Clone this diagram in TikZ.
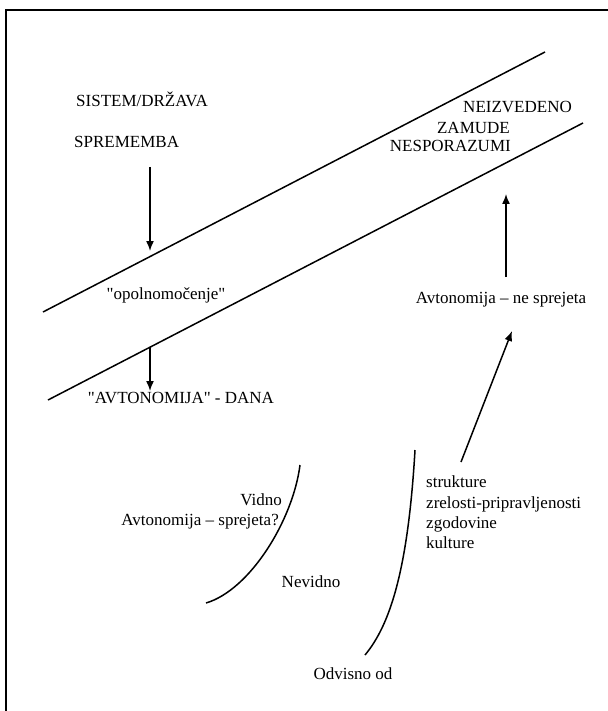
\documentclass[tikz,border=0pt]{standalone}
\usepackage{fontspec}
\setmainfont{Liberation Serif}[Ligatures=TeXOff]
\usetikzlibrary{arrows.meta}
\begin{document}
\begin{tikzpicture}[x=1pt,y=-1pt,
  lbl/.style={inner sep=0pt,font=\fontsize{17}{20.5}\selectfont},
  band/.style={line width=1.5pt},
  curveline/.style={line width=1.5pt},
  arr/.style={line width=1.5pt,-{Latex[length=10pt,width=8pt]}},
  frame/.style={line width=2.5pt}]
\useasboundingbox (0,0) rectangle (607,711);
% frame (top and left edges visible)
\coordinate (fTL) at (6,10);
\coordinate (fTR) at (610,10);
\coordinate (fBL) at (6,714);
\draw[frame] (fTR) -- (fTL) -- (fBL);
% band lines
\coordinate (u1) at (43,312);
\coordinate (u2) at (545,52);
\coordinate (l1) at (48,400);
\coordinate (l2) at (583,123);
\draw[band] (u1) -- (u2);
\draw[band] (l1) -- (l2);
% texts
\node[lbl,anchor=base west] (sis) at (76,107) {SISTEM/DRŽAVA};
\node[lbl,anchor=base west] (spr) at (74,148) {SPREMEMBA};
\node[lbl,anchor=base east] (nei) at (572,113) {NEIZVEDENO};
\node[lbl,anchor=base east] (zam) at (510,134) {ZAMUDE};
\node[lbl,anchor=base east] (nes) at (511,152) {NESPORAZUMI};
\node[lbl,anchor=base] (opo) at (166,299) {"opolnomočenje"};
\node[lbl,anchor=base] (avd) at (181,403) {"AVTONOMIJA" - DANA};
\node[lbl,anchor=base] (ans) at (501,303) {Avtonomija – ne sprejeta};
\node[lbl,anchor=base east] (vid) at (282,505) {Vidno};
\node[lbl,anchor=base east] (asp) at (279,525) {Avtonomija – sprejeta?};
\node[lbl,anchor=base] (nev) at (311,587) {Nevidno};
\node[lbl,anchor=base west] (st1) at (426,487) {strukture};
\node[lbl,anchor=base west] (st2) at (426,508) {zrelosti-pripravljenosti};
\node[lbl,anchor=base west] (st3) at (426,528) {zgodovine};
\node[lbl,anchor=base west] (st4) at (426,548) {kulture};
\node[lbl,anchor=base] (odv) at (353,679) {Odvisno od};
% arrows
\coordinate (a1s) at (150,167);
\coordinate (a1e) at (150,251);
\coordinate (a2s) at (150,347);
\coordinate (a2e) at (150,391);
\coordinate (a3s) at (506,277);
\coordinate (a3e) at (506,194);
\coordinate (a4s) at (461,462);
\coordinate (a4e) at (512,331);
\draw[arr] (a1s) -- (a1e);
\draw[arr] (a2s) -- (a2e);
\draw[arr] (a3s) -- (a3e);
\draw[arr] (a4s) -- (a4e);
% curves
\coordinate (c1s) at (300,465);
\coordinate (c1e) at (206,603);
\coordinate (c2s) at (415,450);
\coordinate (c2e) at (365,655);
\draw[curveline] (c1s) .. controls (293,520) and (250,590) .. (c1e);
\draw[curveline] (c2s) .. controls (408,570) and (390,625) .. (c2e);
\end{tikzpicture}
\end{document}
